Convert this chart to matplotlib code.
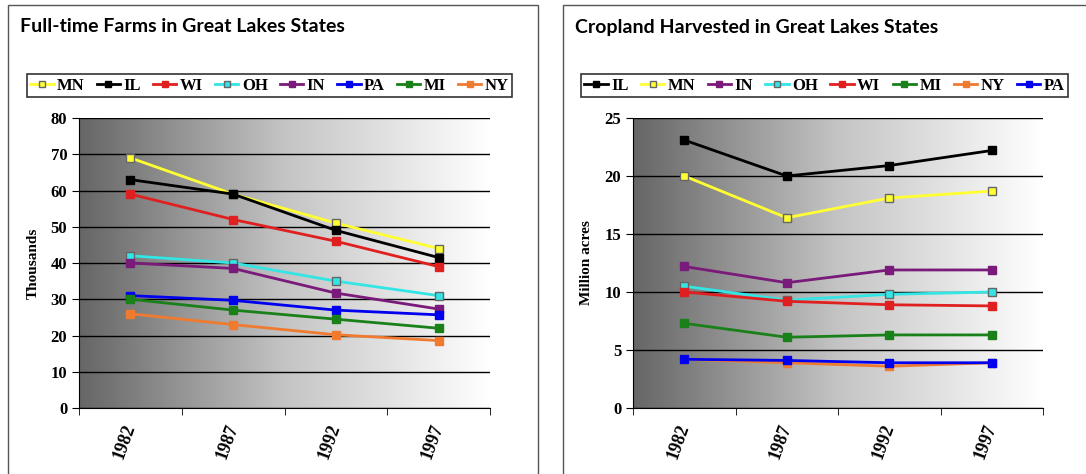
import numpy as np
import matplotlib
matplotlib.use("Agg")
import matplotlib.pyplot as plt
from matplotlib.patches import Rectangle
from matplotlib.lines import Line2D

# Data
years = ["1982", "1987", "1992", "1997"]

farms_states = ["MN", "IL", "WI", "OH", "IN", "PA", "MI", "NY"]
farms_mn = [69, 59, 51, 44]
farms_il = [63, 59, 49, 41.5]
farms_wi = [59, 52, 46, 39]
farms_oh = [42, 40, 35, 31]
farms_in = [40, 38.5, 31.7, 27.3]
farms_pa = [31, 29.7, 27, 25.7]
farms_mi = [30, 27, 24.5, 22]
farms_ny = [26, 23, 20.2, 18.6]

crop_states = ["IL", "MN", "IN", "OH", "WI", "MI", "NY", "PA"]
crop_il = [23.1, 20.0, 20.9, 22.2]
crop_mn = [20.0, 16.4, 18.1, 18.7]
crop_in = [12.2, 10.8, 11.9, 11.9]
crop_oh = [10.5, 9.3, 9.8, 10.0]
crop_wi = [10.0, 9.2, 8.9, 8.8]
crop_mi = [7.3, 6.1, 6.3, 6.3]
crop_ny = [4.2, 3.9, 3.6, 3.9]
crop_pa = [4.2, 4.1, 3.9, 3.9]

COLORS = {
    "MN": "#ffff33", "IL": "#000000", "WI": "#e02020", "OH": "#33e5e5",
    "IN": "#7a1a7a", "PA": "#0000ee", "MI": "#1a801a", "NY": "#f07a30",
}
HOLLOW = {"MN", "OH"}

SERIF = "Liberation Serif"
W, H = 1086, 474


def fig_rect(x0, y0, x1, y1):
    """Pixel box (top-left origin) -> figure fraction [l, b, w, h]."""
    return [x0 / W, 1 - y1 / H, (x1 - x0) / W, (y1 - y0) / H]


def draw_panel(fig, box, axbox, title, states, series, ymax, ystep, ylabel, legend_box):
    # panel frame
    l, b, w, h = fig_rect(*box)
    fig.patches.append(Rectangle((l, b), w, h, transform=fig.transFigure,
                                 fill=False, edgecolor="#555555", linewidth=1.0))
    fig.text(l + 12 / W, 1 - 27 / H, title, fontsize=14, fontweight="bold",
             family="Lato", va="center", ha="left")

    ax = fig.add_axes(fig_rect(*axbox))
    ax.set_xlim(-0.5, 3.5)
    ax.set_ylim(0, ymax)

    # gradient background
    grad = np.linspace(0, 1, 256).reshape(1, -1)
    ax.imshow(grad, extent=(-0.5, 3.5, 0, ymax), aspect="auto",
              cmap=matplotlib.colors.LinearSegmentedColormap.from_list(
                  "g", ["#666666", "#c4c4c4", "#ffffff"]),
              zorder=0)

    x = np.arange(len(years))
    for st, vals in zip(states, series):
        c = COLORS[st]
        edge = "#666666" if st in HOLLOW else c
        ax.plot(x, vals, color=c, linewidth=2, marker="s", markersize=6,
                markerfacecolor=c, markeredgecolor=edge, zorder=3)

    ax.set_yticks(np.arange(0, ymax + 0.1, ystep))
    ax.yaxis.grid(True, color="black", linewidth=1)
    ax.set_axisbelow(False)
    for gl in ax.get_ygridlines():
        gl.set_zorder(1)

    ax.set_xticks(x)
    ax.set_xticklabels(years, rotation=70, fontsize=13, family=SERIF,
                       ha="right", va="center", rotation_mode="anchor")
    ax.tick_params(axis="x", which="major", length=0, pad=12)
    ax.set_xticks(np.arange(-0.5, 3.6, 1), minor=True)
    ax.tick_params(axis="x", which="minor", length=5, color="black")
    ax.tick_params(axis="y", length=5, labelsize=12, color="black")
    for lab in ax.get_yticklabels():
        lab.set_family(SERIF)
        lab.set_fontweight("bold")
    for lab in ax.get_xticklabels():
        lab.set_fontweight("bold")

    ax.spines["top"].set_visible(False)
    ax.spines["right"].set_visible(False)
    ax.set_ylabel(ylabel, family=SERIF, fontsize=11, fontweight="bold", labelpad=8)

    handles = [Line2D([], [], color=COLORS[st], linewidth=2, marker="s", markersize=5,
                      markerfacecolor=COLORS[st],
                      markeredgecolor="#666666" if st in HOLLOW else COLORS[st])
               for st in states]
    lb = fig_rect(*legend_box)
    leg = fig.legend(handles, states, ncol=len(states), loc="center",
                     bbox_to_anchor=(lb[0], lb[1], lb[2], lb[3]),
                     bbox_transform=fig.transFigure, mode="expand",
                     frameon=True, fancybox=False, edgecolor="black",
                     handlelength=1.4, handletextpad=0.2, columnspacing=0.3,
                     borderpad=0.2, borderaxespad=0,
                     prop={"family": SERIF, "size": 12, "weight": "bold"})
    leg.get_frame().set_linewidth(1.2)
    return ax


def main():
    fig = plt.figure(figsize=(W / 100, H / 100), dpi=100)
    fig.patch.set_facecolor("white")

    draw_panel(fig, (8, 5, 538, 480), (79, 118, 490, 408),
               "Full-time Farms in Great Lakes States", farms_states,
               [farms_mn, farms_il, farms_wi, farms_oh, farms_in, farms_pa, farms_mi, farms_ny],
               80, 10, "Thousands", (27, 73, 512, 98))

    draw_panel(fig, (563, 5, 1090, 480), (633, 118, 1043, 408),
               "Cropland Harvested in Great Lakes States", crop_states,
               [crop_il, crop_mn, crop_in, crop_oh, crop_wi, crop_mi, crop_ny, crop_pa],
               25, 5, "Million acres", (581, 73, 1068, 98))

    fig.savefig("out.png", dpi=100)
    plt.close(fig)


if __name__ == "__main__":
    main()
